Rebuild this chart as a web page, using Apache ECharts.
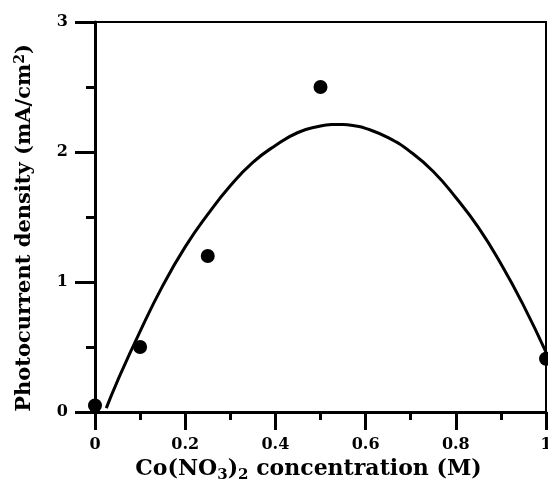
<!DOCTYPE html>
<html>
<head>
<meta charset="utf-8">
<script src="https://cdn.jsdelivr.net/npm/echarts@6/dist/echarts.min.js"></script>
<style>
  html, body { margin: 0; padding: 0; background: #fff; }
  #chart { width: 548px; height: 485px; }
</style>
</head>
<body>
<div id="chart"></div>
<script>
// measured points
const concX = [0, 0.1, 0.25, 0.5, 1.0];
const densityY = [0.05, 0.5, 1.2, 2.5, 0.41];

// fitted curve
const fitX = [0.025, 0.05, 0.1, 0.15, 0.2, 0.25, 0.3, 0.35, 0.4, 0.45, 0.5, 0.525, 0.55,
  0.575, 0.6, 0.65, 0.7, 0.75, 0.8, 0.85, 0.9, 0.95, 1.0];
const fitY = [0.03, 0.24, 0.62, 0.97, 1.27, 1.52, 1.74, 1.92, 2.05, 2.15, 2.2, 2.211, 2.212,
  2.202, 2.182, 2.11, 2.0, 1.85, 1.65, 1.42, 1.14, 0.82, 0.46];

const xTicks = [0, 0.2, 0.4, 0.6, 0.8, 1];
const yTicks = [0, 1, 2, 3];

const FONT = 'DejaVu Serif';

const chart = echarts.init(document.getElementById('chart'), null, { renderer: 'canvas' });

const option = {
  animation: false,
  backgroundColor: '#fff',
  grid: {
    left: 95, right: 2, top: 22, bottom: 73,
    outerBoundsMode: 'none',
    containLabel: false,
    show: true,
    borderColor: '#000',
    borderWidth: 2
  },
  xAxis: {
    type: 'value',
    min: xTicks[0], max: xTicks[xTicks.length - 1], interval: 0.2,
    name: '{n|Co(NO}{s|3}{n|)}{s|2}{n| concentration (M)}',
    nameLocation: 'middle',
    nameGap: 42,
    nameTextStyle: {
      padding: [0, 24, 0, 0],
      rich: {
        n: { fontFamily: FONT, fontWeight: 'bold', fontSize: 22, color: '#000' },
        s: { fontFamily: FONT, fontWeight: 'bold', fontSize: 15, color: '#000', padding: [12, 0, 0, 0] }
      }
    },
    axisLine: { onZero: false, lineStyle: { color: '#000', width: 3 } },
    axisTick: { length: 18, lineStyle: { color: '#000', width: 3 } },
    minorTick: { show: true, splitNumber: 2, length: 8, lineStyle: { color: '#000', width: 3 } },
    splitLine: { show: false },
    axisLabel: {
      margin: 25,
      fontFamily: FONT, fontWeight: 'bold', fontSize: 16, color: '#000',
      formatter: v => String(+v.toFixed(1))
    }
  },
  yAxis: {
    type: 'value',
    min: yTicks[0], max: yTicks[yTicks.length - 1], interval: 1,
    name: '{n|Photocurrent density (mA/cm}{p|2}{n|)}',
    nameLocation: 'middle',
    nameGap: 58,
    nameTextStyle: {
      padding: [0, 22, 0, 0],
      rich: {
        n: { fontFamily: FONT, fontWeight: 'bold', fontSize: 21, color: '#000' },
        p: { fontFamily: FONT, fontWeight: 'bold', fontSize: 14, color: '#000', padding: [0, 0, 10, 0] }
      }
    },
    axisLine: { onZero: false, lineStyle: { color: '#000', width: 3 } },
    axisTick: { length: 20, lineStyle: { color: '#000', width: 3 } },
    minorTick: { show: true, splitNumber: 2, length: 9, lineStyle: { color: '#000', width: 3 } },
    splitLine: { show: false },
    axisLabel: {
      margin: 27,
      fontFamily: FONT, fontWeight: 'bold', fontSize: 16, color: '#000'
    }
  },
  series: [
    {
      type: 'line',
      data: fitX.map((x, i) => [x, fitY[i]]),
      smooth: true,
      showSymbol: false,
      clip: false,
      lineStyle: { color: '#000', width: 3 }
    },
    {
      type: 'scatter',
      data: concX.map((x, i) => [x, densityY[i]]),
      symbol: 'circle',
      symbolSize: 14,
      clip: false,
      itemStyle: { color: '#000', opacity: 1 }
    }
  ]
};

chart.setOption(option);
</script>
</body>
</html>
